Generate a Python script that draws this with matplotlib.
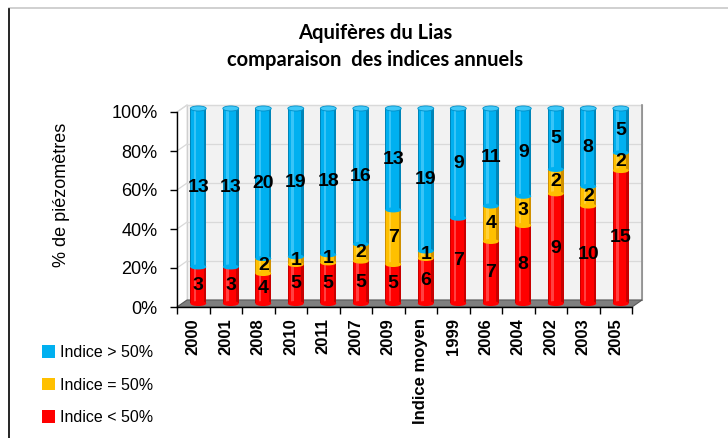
import matplotlib
matplotlib.use("Agg")
import matplotlib.pyplot as plt
from matplotlib.patches import Polygon, Ellipse, Rectangle
from matplotlib.lines import Line2D
import numpy as np

categories = ["2000", "2001", "2008", "2010", "2011", "2007", "2009",
              "Indice moyen", "1999", "2006", "2004", "2002", "2003", "2005"]
below_50 = [3, 3, 4, 5, 5, 5, 5, 6, 7, 7, 8, 9, 10, 15]
equal_50 = [0, 0, 2, 1, 1, 2, 7, 1, 0, 4, 3, 2, 2, 2]
above_50 = [13, 13, 20, 19, 18, 16, 13, 19, 9, 11, 9, 5, 8, 5]

series = [
    ("Indice < 50%", below_50, "#ff0000", "#c80000", "#ff8080"),
    ("Indice = 50%", equal_50, "#ffc000", "#d09000", "#ffe070"),
    ("Indice > 50%", above_50, "#00b0f0", "#0085b8", "#70d8ff"),
]

fig = plt.figure(figsize=(7.28, 4.38), dpi=100)
ax = fig.add_axes([177 / 728, 1 - 307 / 438, 455 / 728, 195 / 438])
n = len(categories)
ax.set_xlim(0, n)
ax.set_ylim(0, 100)

# depth of the 3d box in data units
dx, dy = 0.31, 3.6

# walls and floor
ax.add_patch(Polygon([(dx, dy), (n + dx, dy), (n + dx, 100 + dy), (dx, 100 + dy)],
                     closed=True, fc="#f2f2f2", ec="#bfbfbf", lw=0.8, clip_on=False, zorder=0))
ax.add_patch(Polygon([(0, 0), (dx, dy), (dx, 100 + dy), (0, 100)],
                     closed=True, fc="#ffffff", ec="#d9d9d9", lw=0.8, clip_on=False, zorder=0))
for v in range(20, 101, 20):
    ax.plot([dx, n + dx], [v + dy, v + dy], color="#d9d9d9", lw=0.9, clip_on=False, zorder=1)
    ax.plot([0, dx], [v, v + dy], color="#d9d9d9", lw=0.9, clip_on=False, zorder=1)
ax.plot([n + dx, n + dx], [dy, 100 + dy], color="#8c8c8c", lw=1.2, clip_on=False, zorder=1)
ax.add_patch(Polygon([(0, 0), (n, 0), (n + dx, dy), (dx, dy)],
                     closed=True, fc="#7f7f7f", ec="#595959", lw=0.8, clip_on=False, zorder=1))

# stacked cylinders, values converted to percent
totals = np.array(below_50) + np.array(equal_50) + np.array(above_50)
xc = np.arange(n) + 0.5 + dx / 2
base = np.full(n, dy / 2)
w = 0.49
eh = 2.6
z = 2
for label, vals, col, dark, light in series:
    pct = np.array(vals) / totals * 100
    for i in range(n):
        if vals[i] == 0:
            continue
        b, h = base[i], pct[i]
        ax.bar(xc[i], h, width=w, bottom=b, color=dark, zorder=z, clip_on=False)
        ax.bar(xc[i] - 0.03, h, width=w * 0.78, bottom=b, color=col, zorder=z, clip_on=False)
        ax.bar(xc[i] - 0.1, h, width=w * 0.18, bottom=b, color=light, alpha=0.5,
               zorder=z, clip_on=False)
        ax.add_patch(Ellipse((xc[i], b), w, eh, fc=col, ec="none", zorder=z, clip_on=False))
        ax.text(xc[i], b + h / 2, str(vals[i]), ha="center", va="center",
                fontsize=14, fontweight="bold", family="Liberation Sans", zorder=1000)
        z += 1
    base = base + pct
# top caps
for i in range(n):
    ax.add_patch(Ellipse((xc[i], base[i]), w, eh, fc="#40c8f8", ec="#0090c8", lw=0.6,
                         zorder=z, clip_on=False))

for s in ["top", "right"]:
    ax.spines[s].set_visible(False)
ax.spines["left"].set_linewidth(1.0)
ax.spines["bottom"].set_linewidth(1.0)
ax.spines["left"].set_zorder(900)
ax.spines["bottom"].set_zorder(900)

ax.set_yticks(range(0, 101, 20))
ax.set_yticklabels([f"{v}%" for v in range(0, 101, 20)], fontsize=13, family="Liberation Sans")
ax.tick_params(axis="y", length=5, width=1, pad=9)
ax.set_xticks(np.arange(n) + 0.5)
ax.set_xticklabels(categories, rotation=90, fontsize=12, fontweight="bold",
                   family="Liberation Sans")
ax.set_xticks(np.arange(n + 1), minor=True)
ax.tick_params(axis="x", which="major", length=0, pad=8)
ax.tick_params(axis="x", which="minor", length=5, width=1)

fig.text(62 / 728, 1 - 195 / 438, "% de piézomètres", rotation=90, ha="center", va="center",
         fontsize=13, family="Liberation Sans")

fig.text(375 / 728, 1 - 33 / 438, "Aquifères du Lias", ha="center", va="center",
         fontsize=14.5, fontweight="bold", family="Lato")
fig.text(375 / 728, 1 - 60 / 438, "comparaison  des indices annuels", ha="center", va="center",
         fontsize=14.5, fontweight="bold", family="Lato")

handles = [Rectangle((0, 0), 1, 1, fc=c) for _, _, c, _, _ in series[::-1]]
labels = [s[0] for s in series[::-1]]
fig.legend(handles, labels, loc="upper left", bbox_to_anchor=(34 / 728, 1 - 337 / 438),
           frameon=False, borderpad=0, labelspacing=1.1, handlelength=0.8, handleheight=0.8,
           handletextpad=0.3, prop={"family": "Liberation Sans", "size": 11.5})

# outer frame lines
fig.add_artist(Line2D([9 / 728, 1], [1 - 8 / 438] * 2, color="#c8c8c8", lw=1.2))
fig.add_artist(Line2D([9 / 728] * 2, [0, 1 - 9 / 438], color="black", lw=1.2))

fig.savefig("out.png", dpi=100)
